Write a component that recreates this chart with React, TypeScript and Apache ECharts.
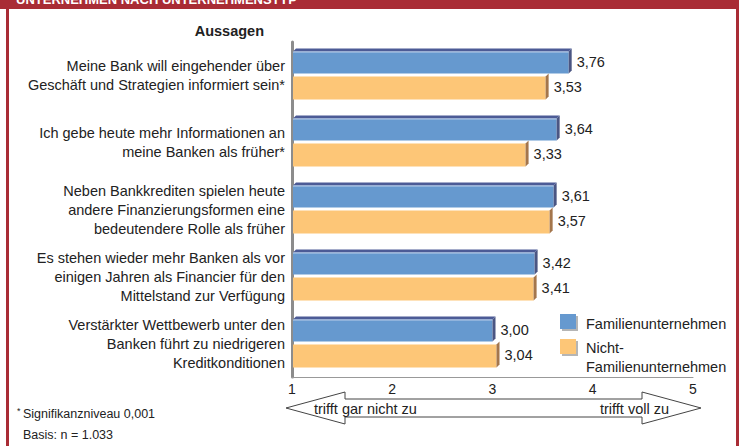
import React, { useEffect, useRef } from "react";
import * as echarts from "echarts";

const categories = [
  "Meine Bank will eingehender über\nGeschäft und Strategien informiert sein*",
  "Ich gebe heute mehr Informationen an\nmeine Banken als früher*",
  "Neben Bankkrediten spielen heute\nandere Finanzierungsformen eine\nbedeutendere Rolle als früher",
  "Es stehen wieder mehr Banken als vor\neinigen Jahren als Financier für den\nMittelstand zur Verfügung",
  "Verstärkter Wettbewerb unter den\nBanken führt zu niedrigeren\nKreditkonditionen",
];
const familienValues = [3.76, 3.64, 3.61, 3.42, 3.0];
const nichtFamilienValues = [3.53, 3.33, 3.57, 3.41, 3.04];
const xTicks = [1, 2, 3, 4, 5];
const seriesNames = ["Familienunternehmen", "Nicht-\nFamilienunternehmen"];

const FONT = "'Liberation Sans', Arial, sans-serif";
const RED = "#a92c35";
const FS = 14.5;

function makeRender(kind: "blue" | "orange") {
  const cfg =
    kind === "blue"
      ? { y0: -24, y1: -2, front: "#6699cf", top: "#4c5b96", side: "#4b5683", drawTop: true }
      : { y0: 1, y1: 24, front: "#fdc677", top: "#c89a5a", side: "#a4764c", drawTop: false };
  return (params: any, api: any) => {
    const val = api.value(0);
    const cat = api.value(1);
    const s = api.coord([1, cat]);
    const e = api.coord([val, cat]);
    const cy = s[1];
    const x0 = s[0] + 1;
    const x1 = e[0];
    const top = cy + cfg.y0;
    const bot = cy + cfg.y1;
    const d = 3;
    const children: any[] = [
      {
        type: "rect",
        shape: { x: x0, y: top, width: x1 - x0, height: bot - top },
        style: { fill: cfg.front },
      },
      {
        type: "polygon",
        shape: { points: [[x1, top], [x1 + d, top - d], [x1 + d, bot - d], [x1, bot]] },
        style: { fill: cfg.side },
      },
    ];
    if (cfg.drawTop) {
      children.push({
        type: "polygon",
        shape: { points: [[x0, top], [x0 + d, top - d], [x1 + d, top - d], [x1, top]] },
        style: { fill: cfg.top },
      });
      children.push({
        type: "line",
        shape: { x1: x0, y1: top + 0.5, x2: x1, y2: top + 0.5 },
        style: { stroke: "#b9cdea", lineWidth: 1 },
      });
    }
    children.push({
      type: "text",
      x: x1 + d + 5,
      y: (top + bot) / 2 - 1,
      style: {
        text: val.toFixed(2).replace(".", ","),
        fill: "#222",
        font: `${FS}px ${FONT}`,
        verticalAlign: "middle",
        align: "left",
      },
    });
    return { type: "group", children };
  };
}

export default function App() {
  const ref = useRef<HTMLDivElement>(null);
  useEffect(() => {
    document.body.style.margin = "0";
    const chart = echarts.init(ref.current!, null, { renderer: "svg" });
    const arrowPts = [
      [286, 408], [345, 392], [345, 399], [642, 399], [642, 392], [701, 408],
      [642, 424], [642, 417], [345, 417], [345, 424],
    ];
    chart.setOption({
      animation: false,
      backgroundColor: "#fff",
      grid: { left: 292, right: 49, top: 42, height: 335, containLabel: false },
      xAxis: {
        type: "value",
        min: 1,
        max: 5,
        interval: 1,
        splitLine: { show: false },
        axisTick: { show: false },
        axisLine: { show: true, lineStyle: { color: "#999", width: 1 } },
        axisLabel: {
          margin: 5,
          color: "#222",
          fontSize: 14,
          fontFamily: FONT,
          formatter: (v: number) => (xTicks.includes(v) ? String(v) : ""),
        },
      },
      yAxis: {
        type: "category",
        data: categories,
        inverse: true,
        axisTick: { show: false },
        axisLine: { show: true, lineStyle: { color: "#8c8c8c", width: 3 } },
        axisLabel: {
          margin: 7,
          color: "#222",
          fontSize: FS,
          lineHeight: 19,
          fontFamily: FONT,
          align: "right",
        },
      },
      series: [
        {
          name: seriesNames[0],
          type: "custom",
          renderItem: makeRender("blue"),
          encode: { x: 0, y: 1 },
          data: familienValues.map((v, i) => [v, i]),
          z: 2,
        },
        {
          name: seriesNames[1],
          type: "custom",
          renderItem: makeRender("orange"),
          encode: { x: 0, y: 1 },
          data: nichtFamilienValues.map((v, i) => [v, i]),
          z: 3,
        },
      ],
      graphic: [
        { type: "rect", shape: { x: 0, y: 0, width: 739, height: 9 }, style: { fill: RED } },
        { type: "rect", shape: { x: 6, y: 0, width: 3, height: 446 }, style: { fill: RED } },
        { type: "rect", shape: { x: 736, y: 0, width: 3, height: 446 }, style: { fill: RED } },
        {
          type: "text",
          x: 16,
          y: 6,
          style: {
            text: "UNTERNEHMEN NACH UNTERNEHMENSTYP",
            fill: "#fff",
            font: `bold 13px ${FONT}`,
            verticalAlign: "bottom",
          },
        },
        {
          type: "text",
          x: 264,
          y: 31,
          style: {
            text: "Aussagen",
            fill: "#222",
            font: `bold ${FS}px ${FONT}`,
            align: "right",
            verticalAlign: "middle",
          },
        },
        // legend
        { type: "rect", shape: { x: 562, y: 316, width: 16, height: 15 }, style: { fill: "#b5b5b5" } },
        { type: "rect", shape: { x: 560, y: 314, width: 16, height: 15 }, style: { fill: "#6699cf" } },
        {
          type: "text",
          x: 586,
          y: 324,
          style: { text: seriesNames[0], fill: "#222", font: `${FS}px ${FONT}`, verticalAlign: "middle" },
        },
        { type: "rect", shape: { x: 562, y: 341, width: 16, height: 15 }, style: { fill: "#b5b5b5" } },
        { type: "rect", shape: { x: 560, y: 339, width: 16, height: 15 }, style: { fill: "#fdc677" } },
        {
          type: "text",
          x: 586,
          y: 338,
          style: {
            text: seriesNames[1],
            fill: "#222",
            font: `${FS}px ${FONT}`,
            lineHeight: 19,
            verticalAlign: "top",
          },
        },
        // arrow
        {
          type: "polygon",
          shape: { points: arrowPts },
          style: { fill: "#fff", stroke: "#444", lineWidth: 1 },
          z: -1,
        },
        {
          type: "text",
          x: 314,
          y: 409,
          style: { text: "trifft gar nicht zu", fill: "#222", font: `${FS}px ${FONT}`, verticalAlign: "middle" },
        },
        {
          type: "text",
          x: 669,
          y: 409,
          style: {
            text: "trifft voll zu",
            fill: "#222",
            font: `${FS}px ${FONT}`,
            verticalAlign: "middle",
            align: "right",
          },
        },
        // footnotes
        {
          type: "text",
          x: 17,
          y: 411,
          style: { text: "*", fill: "#222", font: `9px ${FONT}`, verticalAlign: "middle" },
        },
        {
          type: "text",
          x: 23,
          y: 414,
          style: { text: "Signifikanzniveau 0,001", fill: "#222", font: `12.5px ${FONT}`, verticalAlign: "middle" },
        },
        {
          type: "text",
          x: 23,
          y: 435,
          style: { text: "Basis: n = 1.033", fill: "#222", font: `12.5px ${FONT}`, verticalAlign: "middle" },
        },
      ],
    });
    return () => chart.dispose();
  }, []);
  return <div ref={ref} style={{ width: 742, height: 446 }} />;
}
